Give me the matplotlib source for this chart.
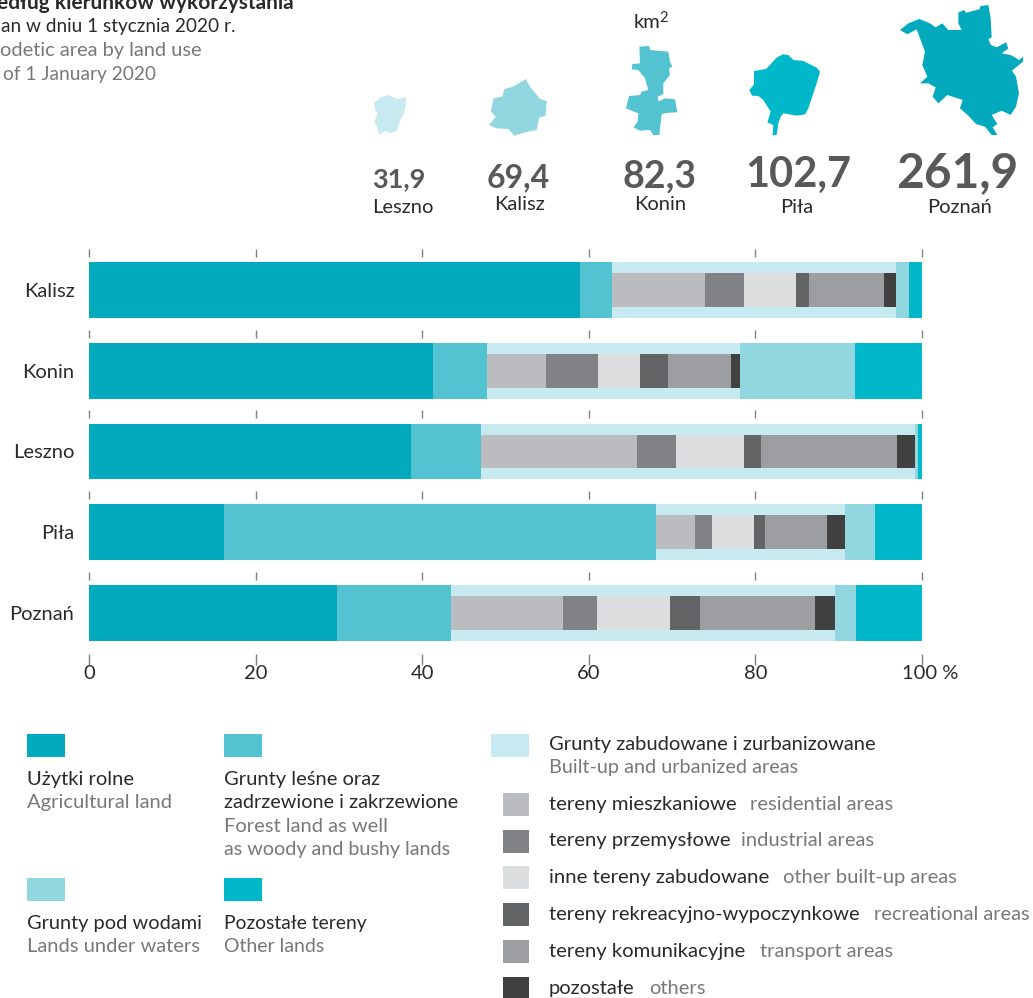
import numpy as np
import matplotlib
matplotlib.use('Agg')
import matplotlib.pyplot as plt
from matplotlib.patches import Polygon, Rectangle
from matplotlib.transforms import ScaledTranslation

plt.rcParams['font.family'] = ['Lato', 'Noto Sans', 'DejaVu Sans']

cities = ['Kalisz', 'Konin', 'Leszno', 'Piła', 'Poznań']
agri = [59.0, 41.3, 38.6, 16.2, 29.8]
forest = [3.8, 6.5, 8.4, 51.9, 13.7]
residential = [11.1, 7.1, 18.8, 4.7, 13.4]
industrial = [4.7, 6.2, 4.7, 2.0, 4.1]
other_built = [6.3, 5.1, 8.1, 5.0, 8.7]
recreational = [1.5, 3.3, 2.1, 1.4, 3.7]
transport = [9.0, 7.6, 16.3, 7.4, 13.7]
others = [1.5, 1.0, 2.1, 2.1, 2.4]
water = [1.5, 13.9, 0.4, 3.7, 2.6]
other_lands = [1.6, 8.0, 0.5, 5.6, 7.9]

x_ticks = [0, 20, 40, 60, 80, 100]
x_labels = ['0', '20', '40', '60', '80', '100 %']

area_values = ['31,9', '69,4', '82,3', '102,7', '261,9']
area_names = ['Leszno', 'Kalisz', 'Konin', 'Piła', 'Poznań']

leszno_shape = (365, 75, [(28, 82), (43, 72), (45, 68), (70, 60), (95, 72), (123, 66), (122, 95), (115, 120),
                          (108, 130), (95, 168), (75, 175), (62, 168), (42, 180), (38, 160), (28, 140), (38, 115),
                          (30, 105)])
kalisz_shape = (365, 75, [(372, 150), (392, 125), (378, 110), (385, 70), (412, 65), (418, 42), (445, 35), (482, 12),
                          (495, 35), (525, 72), (545, 78), (542, 122), (522, 128), (515, 165), (480, 172), (448, 182),
                          (430, 162), (395, 160)])
konin_shape = (615, 40, [(73, 20), (103, 18), (105, 30), (160, 35), (165, 65), (172, 80), (162, 85), (165, 105),
                         (145, 130), (145, 162), (128, 170), (130, 185), (150, 175), (180, 178), (185, 205),
                         (187, 217), (160, 218), (140, 222), (133, 285), (115, 285), (105, 270), (75, 272), (55, 262),
                         (68, 245), (70, 220), (33, 205), (42, 168), (75, 165), (80, 155), (100, 150), (90, 115),
                         (70, 90), (50, 88), (52, 72), (75, 70)])
pila_shape = (740, 45, [(28, 135), (42, 118), (42, 78), (78, 72), (110, 38), (128, 28), (145, 30), (160, 45), (190, 48),
                        (230, 68), (240, 80), (230, 115), (205, 190), (195, 208), (170, 212), (130, 205), (122, 215),
                        (115, 235), (110, 270), (98, 270), (100, 240), (82, 232), (92, 200), (70, 165), (55, 153),
                        (36, 152)])
poznan_shape = (890, 0, [(30, 90), (55, 70), (88, 57), (120, 70), (137, 82), (157, 70), (175, 90), (215, 90), (205, 70),
                         (205, 38), (222, 30), (228, 38), (268, 28), (272, 18), (295, 15), (302, 55), (305, 112),
                         (295, 118), (303, 135), (320, 142), (348, 127), (355, 145), (335, 160), (362, 165), (388, 180),
                         (399, 170), (399, 185), (366, 212), (378, 230), (387, 280), (378, 320), (362, 345), (335, 332),
                         (305, 345), (322, 372), (308, 382), (322, 405), (305, 405), (285, 380), (258, 372), (235, 347),
                         (210, 325), (218, 300), (172, 285), (145, 310), (128, 290), (137, 262), (115, 250), (90, 250),
                         (112, 230), (97, 195), (105, 155), (80, 88), (52, 103)])

c_agri = '#03a9bc'
c_forest = '#53c3d2'
c_water = '#92d6e0'
c_other = '#00b8c9'
c_built = '#c7e9f0'
c_res = '#bbbcc0'
c_ind = '#808285'
c_oth = '#dcdddf'
c_rec = '#636466'
c_tra = '#9d9ea2'
c_rest = '#404041'
c_text = '#2b2a29'
c_grey = '#77787b'

W, H = 1033, 998
fig = plt.figure(figsize=(W / 100, H / 100), dpi=100)

# overlay in pixel coordinates for texts, maps and legend
bg = fig.add_axes([0, 0, 1, 1])
bg.set_xlim(0, W)
bg.set_ylim(H, 0)
bg.axis('off')


def label(x, y, s, size=14.5, color=c_text, ha='left', weight='normal'):
    bg.text(x, y, s, fontsize=size, color=color, ha=ha, va='baseline', fontweight=weight)


# main bars
left, right, top, bottom = 89, 922, 249, 654
ax = fig.add_axes([left / W, 1 - bottom / H, (right - left) / W, (bottom - top) / H])
ax.patch.set_alpha(0)
ax.set_xlim(0, 100)
ax.set_ylim(4.508, -0.508)
y = np.arange(len(cities))
bar_h = 56 / 80.75
inner_h = 34 / 80.75

inner = [(residential, c_res), (industrial, c_ind), (other_built, c_oth),
         (recreational, c_rec), (transport, c_tra), (others, c_rest)]
built = np.sum([s for s, _ in inner], axis=0)

start = np.zeros(len(cities))
for vals, col in [(agri, c_agri), (forest, c_forest), (built, c_built), (water, c_water), (other_lands, c_other)]:
    ax.barh(y, vals, left=start, height=bar_h, color=col, linewidth=0)
    start = start + np.array(vals)

start = np.array(agri) + np.array(forest)
for vals, col in inner:
    ax.barh(y, vals, left=start, height=inner_h, color=col, linewidth=0)
    start = start + np.array(vals)

for sp in ax.spines.values():
    sp.set_visible(False)
ax.set_yticks(y)
ax.set_yticklabels(cities, fontsize=14.5, color=c_text)
ax.tick_params(axis='y', length=0, pad=10.5)
ax.set_xticks(x_ticks)
ax.set_xticklabels(x_labels, fontsize=14.5, color=c_text)
ax.tick_params(axis='x', length=8, width=1, color='#808080', pad=0)
# "100" stays over its tick, the % sign hangs to the right
last = ax.get_xticklabels()[-1]
last.set_transform(last.get_transform() + ScaledTranslation(8 / 100, 0, fig.dpi_scale_trans))
# short ticks above every bar
for i in y:
    ax.vlines(x_ticks, i - 0.508, i - 0.409, color='#808080', linewidth=1, clip_on=False)

# title block, only the part that shows in the picture
label(294, 9, 'edług kierunków wykorzystania', size=15, ha='right', weight='bold')
label(1, 32, 'an w dniu 1 stycznia 2020 r.', size=13.7)
label(0, 56, 'odetic area by land use', color=c_grey, size=14.4)
label(3, 80, 'of 1 January 2020', color=c_grey, size=13.8)

# area maps
for (ox, oy, pts), col in [(leszno_shape, c_built), (kalisz_shape, c_water), (konin_shape, c_forest),
                           (pila_shape, c_other), (poznan_shape, c_agri)]:
    bg.add_patch(Polygon([(ox + a / 3, oy + b / 3) for a, b in pts], closed=True, color=col, linewidth=0))

label(634, 28, 'km')
label(659, 22, '2', size=10.5)
value_x = [399, 518, 660, 798, 957]
value_size = [19.5, 23, 27, 30, 34.5]
name_x = [403, 519, 660, 797, 960]
name_y = [213, 210, 210, 213, 213]
for i in range(5):
    label(value_x[i], 187, area_values[i], size=value_size[i], color='#58595b', ha='center', weight='bold')
    label(name_x[i], name_y[i], area_names[i], ha='center')

# legend
for x0, y0, x1, y1, col in [(27, 734, 65, 757, c_agri), (224, 734, 262, 757, c_forest),
                            (27, 878, 65, 901, c_water), (224, 878, 262, 901, c_other),
                            (491, 734, 529, 757, c_built), (503, 793, 529, 816, c_res),
                            (503, 830, 529, 853, c_ind), (503, 866, 529, 889, c_oth),
                            (503, 903, 529, 926, c_rec), (503, 940, 529, 963, c_tra),
                            (503, 977, 529, 998, c_rest)]:
    bg.add_patch(Rectangle((x0, y0), x1 - x0, y1 - y0, color=col, linewidth=0))

label(27, 785, 'Użytki rolne')
label(27, 808, 'Agricultural land', color=c_grey)
label(224, 785, 'Grunty leśne oraz')
label(224, 808, 'zadrzewione i zakrzewione', size=14.3)
label(224, 832, 'Forest land as well', color=c_grey)
label(224, 855, 'as woody and bushy lands', color=c_grey, size=14.2)
label(27, 929, 'Grunty pod wodami', size=14.4)
label(27, 952, 'Lands under waters', color=c_grey)
label(224, 929, 'Pozostałe tereny', size=13.9)
label(224, 952, 'Other lands', color=c_grey, size=14)

label(549, 750, 'Grunty zabudowane i zurbanizowane')
label(549, 773, 'Built-up and urbanized areas', color=c_grey, size=14.3)
label(549, 810, 'tereny mieszkaniowe', size=14.6)
label(750, 810, 'residential areas', color=c_grey)
label(549, 846, 'tereny przemysłowe', size=14.6)
label(741, 846, 'industrial areas', color=c_grey)
label(549, 883, 'inne tereny zabudowane', size=14.7)
label(783, 883, 'other built-up areas', color=c_grey)
label(549, 920, 'tereny rekreacyjno-wypoczynkowe')
label(874, 920, 'recreational areas', color=c_grey, size=14.4)
label(549, 957, 'tereny komunikacyjne', size=14.6)
label(760, 957, 'transport areas', color=c_grey)
label(549, 994, 'pozostałe')
label(649, 994, 'others', color=c_grey)

fig.savefig('out.png', dpi=100)
